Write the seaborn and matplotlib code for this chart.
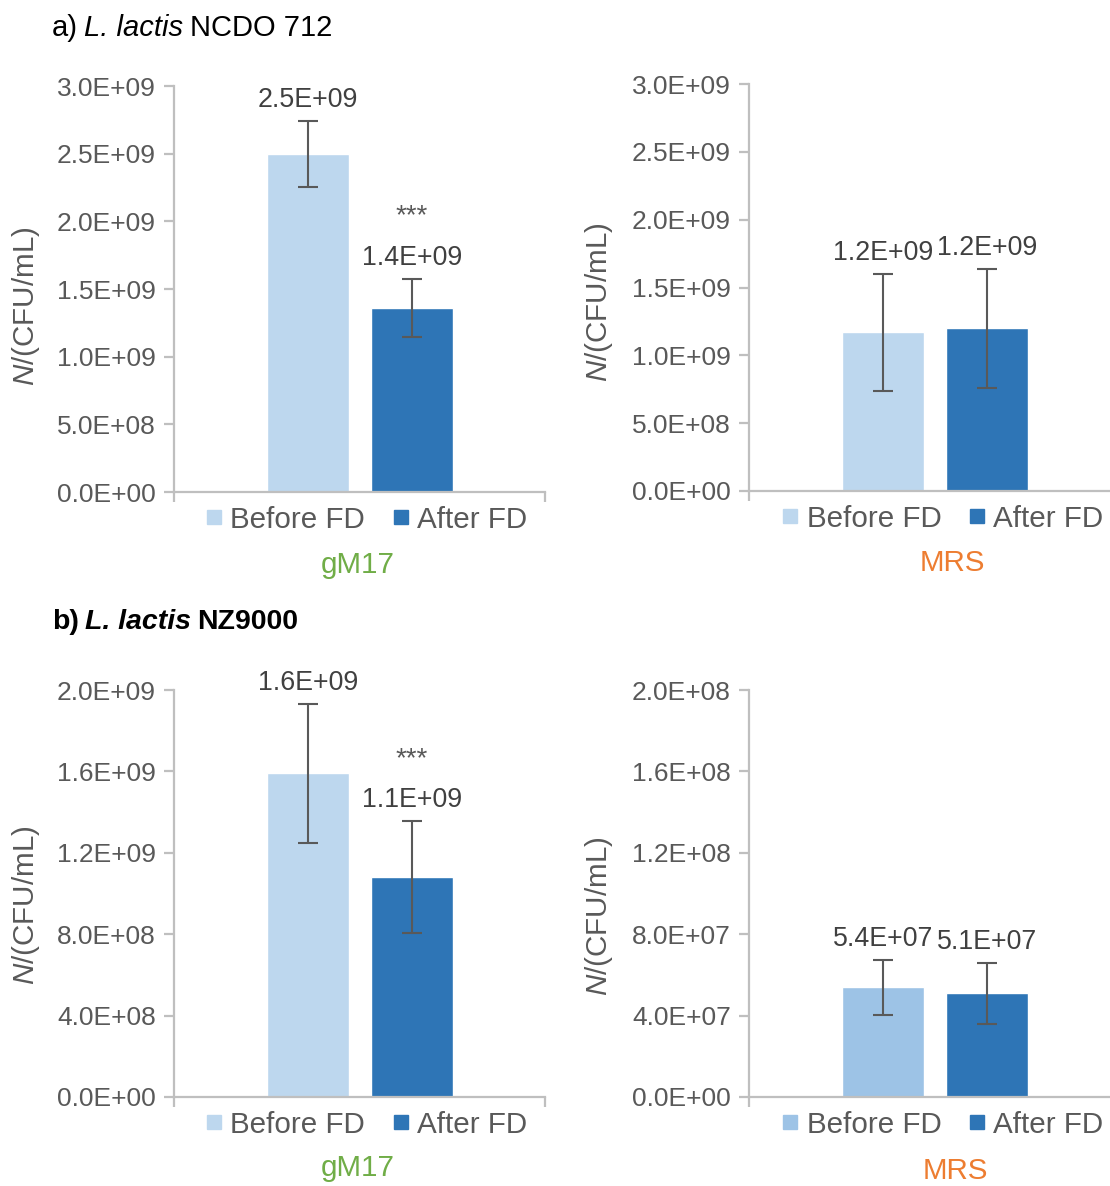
import matplotlib
matplotlib.use("Agg")
import matplotlib.pyplot as plt
from matplotlib.lines import Line2D
from matplotlib.transforms import IdentityTransform
import numpy as np
import pandas as pd
import seaborn as sns

# ---- data -------------------------------------------------------------
groups = ["Before FD", "After FD"]

a_gm17_mean = [2.50e9, 1.36e9]
a_gm17_err = [0.245e9, 0.215e9]
a_mrs_mean = [1.17e9, 1.20e9]
a_mrs_err = [0.43e9, 0.44e9]

b_gm17_mean = [1.59e9, 1.08e9]
b_gm17_err = [0.34e9, 0.275e9]
b_mrs_mean = [5.4e7, 5.1e7]
b_mrs_err = [1.35e7, 1.5e7]

gm17_marks = ["", "***"]
mrs_marks = ["", ""]

a_ticks = [0, 0.5e9, 1.0e9, 1.5e9, 2.0e9, 2.5e9, 3.0e9]
b_gm17_ticks = [0, 0.4e9, 0.8e9, 1.2e9, 1.6e9, 2.0e9]
b_mrs_ticks = [0, 0.4e8, 0.8e8, 1.2e8, 1.6e8, 2.0e8]

# ---- style ------------------------------------------------------------
sns.set_style("white")
plt.rcParams["font.family"] = ["Liberation Sans", "DejaVu Sans"]
plt.rcParams["mathtext.fontset"] = "custom"
plt.rcParams["mathtext.rm"] = "Liberation Sans"
plt.rcParams["mathtext.it"] = "Liberation Sans:italic"

LIGHT = "#BDD7EE"
LIGHT2 = "#9DC3E6"
DARK = "#2E75B6"
AXIS = "#BFBFBF"
TICKTXT = "#595959"
LABTXT = "#404040"
GREEN = "#70AD47"
ORANGE = "#ED7D31"

TICK_FS = 19
LABEL_FS = 19.3
BIG_FS = 21.3

W, H = 1110, 1186
fig = plt.figure(figsize=(W / 100, H / 100), dpi=100)


def add_ax(x0, y0, x1, y1):
    return fig.add_axes([x0 / W, 1 - y1 / H, (x1 - x0) / W, (y1 - y0) / H])


def panel(ax, means, errs, ticks, colors, marks, medium, medium_color,
          ylab_x, ylab_y, leg_x, med_x, med_y):
    df = pd.DataFrame({"group": groups, "value": means})
    sns.barplot(data=df, x="group", y="value", hue="group",
                palette=colors, width=0.788, saturation=1,
                legend=False, ax=ax, errorbar=None)
    ax.errorbar([0, 1], means, yerr=errs, fmt="none", ecolor="#595959",
                elinewidth=1.5, capsize=7, capthick=1.5, zorder=5)
    ax.set_xlim(-1.288, 2.279)
    ax.set_ylim(0, ticks[-1])
    ax.set_yticks(ticks)
    ax.set_yticklabels([f"{t:.1E}" for t in ticks])
    ax.set_xticks([-1.288, 2.279])
    ax.set_xticklabels(["", ""])
    ax.set_xlabel("")
    for s in ["top", "right"]:
        ax.spines[s].set_visible(False)
    for s in ["left", "bottom"]:
        ax.spines[s].set_color(AXIS)
        ax.spines[s].set_linewidth(1.6)
    ax.tick_params(axis="y", length=7, width=1.6, color=AXIS,
                   labelcolor=TICKTXT, labelsize=TICK_FS, pad=6, left=True)
    ax.tick_params(axis="x", length=7, width=1.6, color=AXIS, bottom=True)
    ax.set_ylabel("$\\it{N}$/(CFU/mL)", fontsize=BIG_FS, color=TICKTXT)
    ax.yaxis.set_label_coords(ylab_x, ylab_y)

    for i, (m, e, mk) in enumerate(zip(means, errs, marks)):
        ax.annotate(f"{m:.1E}", (i, m + e), xytext=(0, 15),
                    textcoords="offset points", ha="center", va="center",
                    fontsize=LABEL_FS, color=LABTXT)
        if mk:
            ax.annotate(mk, (i, m + e), xytext=(0, 45),
                        textcoords="offset points", ha="center",
                        va="center", fontsize=20, color=TICKTXT)

    handles = [Line2D([], [], marker="s", linestyle="none", markersize=10,
                      markerfacecolor=c, markeredgecolor=c) for c in colors]
    ax.legend(handles, groups, loc="center", bbox_to_anchor=(leg_x, -0.068),
              ncol=2, frameon=False, fontsize=BIG_FS, handlelength=0.5,
              handletextpad=0.3, columnspacing=0.95, labelcolor=TICKTXT,
              borderaxespad=0, borderpad=0)
    ax.text(med_x, med_y, medium, transform=ax.transAxes, ha="center",
            va="center", fontsize=BIG_FS, color=medium_color)


ax1 = add_ax(174, 86, 545, 492)
panel(ax1, a_gm17_mean, a_gm17_err, a_ticks, [LIGHT, DARK], gm17_marks,
      "gM17", GREEN, -0.355, 0.458, 0.52, 0.496, -0.18)

ax2 = add_ax(749, 84, 1120, 491)
panel(ax2, a_mrs_mean, a_mrs_err, a_ticks, [LIGHT, DARK], mrs_marks,
      "MRS", ORANGE, -0.36, 0.463, 0.523, 0.547, -0.177)

ax3 = add_ax(174, 690, 545, 1097)
panel(ax3, b_gm17_mean, b_gm17_err, b_gm17_ticks, [LIGHT, DARK], gm17_marks,
      "gM17", GREEN, -0.355, 0.472, 0.52, 0.496, -0.174)

ax4 = add_ax(749, 690, 1120, 1097)
panel(ax4, b_mrs_mean, b_mrs_err, b_mrs_ticks, [LIGHT2, DARK], mrs_marks,
      "MRS", ORANGE, -0.36, 0.445, 0.523, 0.555, -0.182)


# ---- panel headings with italic species names ------------------------
def heading(x, y, parts, size, weight):
    renderer = fig.canvas.get_renderer()
    space = size * 100 / 72 * 0.22
    for k, (txt, style) in enumerate(parts):
        t = fig.text(x, H - y, txt, transform=IdentityTransform(),
                     fontsize=size, fontstyle=style, fontweight=weight,
                     ha="left", va="center", color="black")
        bb = t.get_window_extent(renderer)
        x = bb.x1 + space


heading(52, 28, [("a)", "normal"), ("L. lactis", "italic"),
                 ("NCDO 712", "normal")], 21, "normal")
heading(52, 622, [("b)", "normal"), ("L. lactis", "italic"),
                  ("NZ9000", "normal")], 20.5, "bold")

fig.savefig("out.png", dpi=100)
